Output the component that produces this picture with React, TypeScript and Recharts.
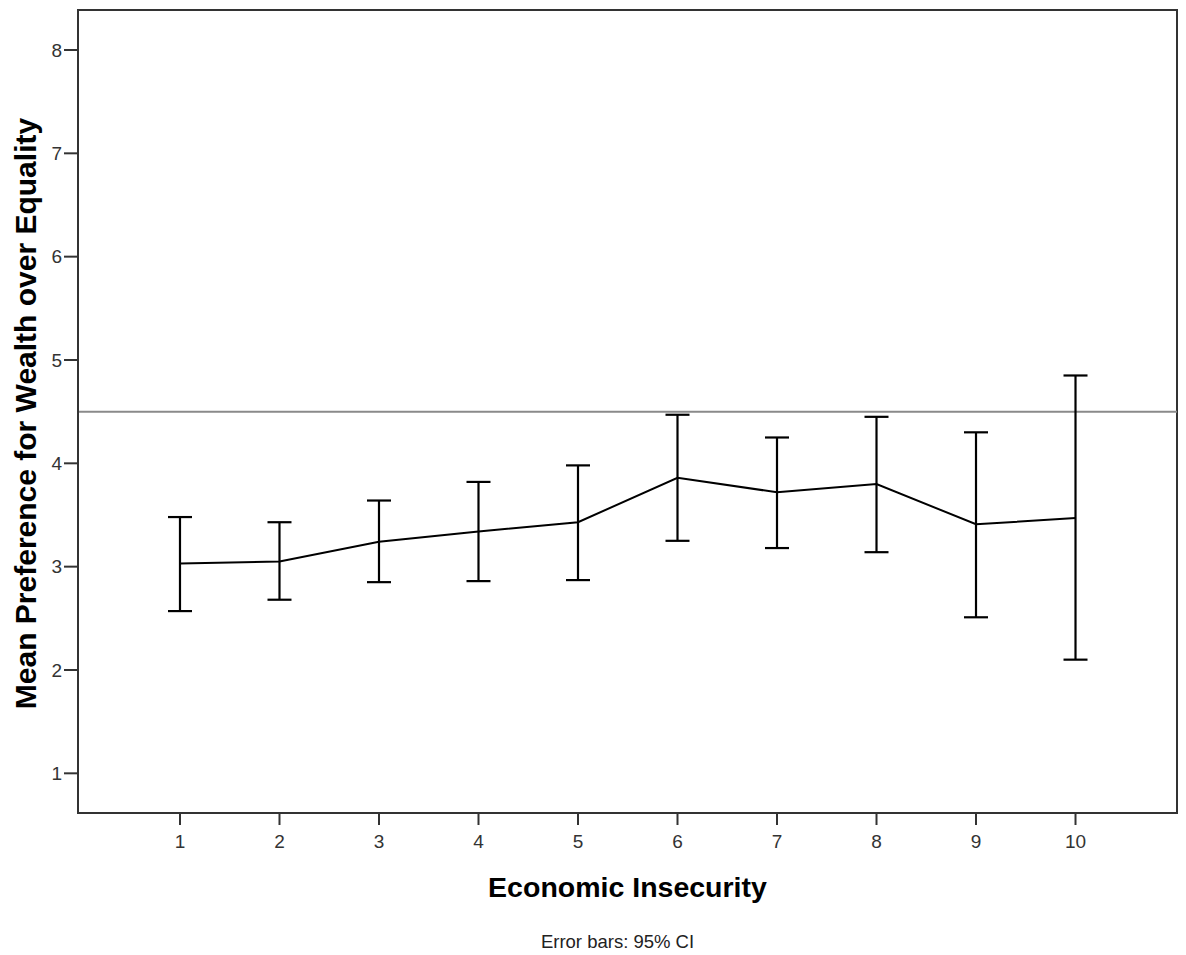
import { ComposedChart, Line, XAxis, YAxis, ErrorBar, ReferenceLine, ReferenceArea, Label } from 'recharts';

// 경제적 불안정 수준 (x축)
const INSECURITY = [1, 2, 3, 4, 5, 6, 7, 8, 9, 10];
// 평균값과 95% 신뢰구간
const MEAN_PREF = [3.03, 3.05, 3.24, 3.34, 3.43, 3.86, 3.72, 3.8, 3.41, 3.47];
const CI_LOW = [2.57, 2.68, 2.85, 2.86, 2.87, 3.25, 3.18, 3.14, 2.51, 2.1];
const CI_HIGH = [3.48, 3.43, 3.64, 3.82, 3.98, 4.47, 4.25, 4.45, 4.3, 4.85];

const Y_TICKS = [1, 2, 3, 4, 5, 6, 7, 8];
const REFERENCE_VALUE = 4.5;

const X_DOMAIN: [number, number] = [-0.025, 11.02];
const Y_DOMAIN: [number, number] = [0.616, 8.387];

const AXIS_COLOR = '#333';
const FONT = '"Liberation Sans", Arial, sans-serif';

const data = INSECURITY.map((x, i) => ({
  x,
  mean: MEAN_PREF[i],
  ci: [MEAN_PREF[i] - CI_LOW[i], CI_HIGH[i] - MEAN_PREF[i]],
}));

export default function App() {
  return (
    <ComposedChart
      width={1178}
      height={947}
      data={data}
      margin={{ top: 2, right: 9, bottom: 0, left: 0 }}
      style={{ fontFamily: FONT }}
    >
      <XAxis
        type="number"
        dataKey="x"
        domain={X_DOMAIN}
        ticks={INSECURITY}
        allowDataOverflow
        height={142}
        tickSize={12}
        tickMargin={10}
        axisLine={{ stroke: AXIS_COLOR, strokeWidth: 2 }}
        tickLine={{ stroke: AXIS_COLOR, strokeWidth: 2 }}
        tick={{ fill: '#333', fontSize: 19 }}
      >
        <Label value="Economic Insecurity" position="insideTop" offset={64} fontSize={28.5} fontWeight="bold" fill="#000" />
        <Label value="Error bars: 95% CI" position="insideTop" offset={122} dx={-10} fontSize={18.5} fill="#222" />
      </XAxis>
      <YAxis
        type="number"
        domain={Y_DOMAIN}
        ticks={Y_TICKS}
        allowDataOverflow
        width={70}
        tickSize={14}
        tickMargin={2}
        axisLine={{ stroke: AXIS_COLOR, strokeWidth: 2 }}
        tickLine={{ stroke: AXIS_COLOR, strokeWidth: 2 }}
        tick={{ fill: '#333', fontSize: 19 }}
      >
        <Label
          value="Mean Preference for Wealth over Equality"
          angle={-90}
          position="insideLeft"
          offset={17}
          dy={2}
          fontSize={30}
          fontWeight="bold"
          fill="#000"
          style={{ textAnchor: 'middle' }}
        />
      </YAxis>
      <ReferenceArea
        x1={X_DOMAIN[0]}
        x2={X_DOMAIN[1]}
        y1={Y_DOMAIN[0]}
        y2={Y_DOMAIN[1]}
        fill="none"
        stroke={AXIS_COLOR}
        strokeWidth={2}
        ifOverflow="visible"
      />
      <ReferenceLine y={REFERENCE_VALUE} stroke="#8a8a8a" strokeWidth={2} />
      <Line type="linear" dataKey="mean" stroke="#000" strokeWidth={2} dot={false} isAnimationActive={false}>
        <ErrorBar dataKey="ci" direction="y" width={12} stroke="#000" strokeWidth={2.2} isAnimationActive={false} />
      </Line>
    </ComposedChart>
  );
}
